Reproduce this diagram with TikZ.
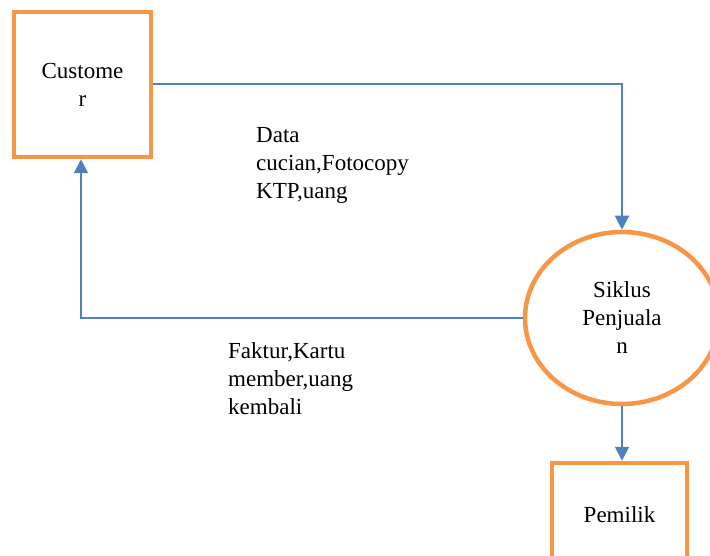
\documentclass[tikz,border=0pt]{standalone}
\usepackage{fontspec}
\setmainfont{Liberation Serif}
\usetikzlibrary{arrows.meta,shapes.geometric}
\definecolor{dfdorange}{HTML}{F79646}
\definecolor{dfdblue}{HTML}{4F81BD}
\tikzset{
  entity/.style={draw=dfdorange,line width=4.5pt,fill=white,rectangle,inner sep=0pt,align=center},
  process/.style={draw=dfdorange,line width=4.5pt,fill=white,ellipse,inner sep=0pt,align=center},
  flow/.style={draw=dfdblue,line width=2pt,-{Triangle[width=14pt,length=14pt]}},
  flowlabel/.style={inner sep=0pt,align=left,anchor=north west},
}
\begin{document}
\begin{tikzpicture}[x=1pt,y=-1pt,font=\fontsize{23}{28}\selectfont]
\useasboundingbox (0,0) rectangle (710,556);
\clip (0,0) rectangle (710,556);
\node[entity,minimum width=137pt,minimum height=145pt] (cust) at (82.5,84.5) {Custome\\r};
\node[process,minimum width=194pt,minimum height=172pt] (siklus) at (622,318) {Siklus\\Penjuala\\n};
\node[entity,minimum width=135pt,minimum height=104pt] (pemilik) at (619.5,515) {Pemilik};
\draw[flow] (cust.east) -| (siklus.north);
\draw[flow] (siklus.west) -| ([xshift=-1.5pt]cust.south);
\draw[flow] (siklus.south) -- (siklus.south |- pemilik.north);
\node[flowlabel] (l1) at (256,127) {Data\\cucian,Fotocopy\\KTP,uang};
\node[flowlabel] (l2) at (228,342) {Faktur,Kartu\\member,uang\\kembali};
\end{tikzpicture}
\end{document}
